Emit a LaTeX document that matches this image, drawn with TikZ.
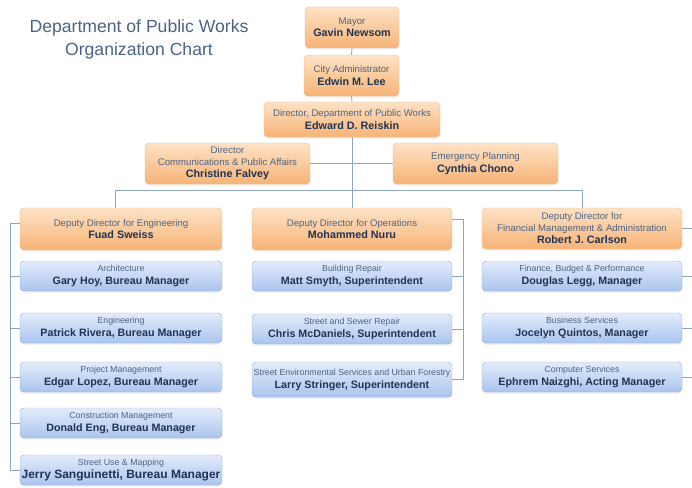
\documentclass[tikz,border=0pt]{standalone}
\usepackage{fontspec}
\setmainfont{Liberation Sans}
\usetikzlibrary{shadows}

\definecolor{titlec}{HTML}{4B6384}
\definecolor{namec}{HTML}{1F3354}
\definecolor{rolec}{HTML}{4E6283}
\definecolor{linec}{HTML}{8FA4C0}
\definecolor{orgtop}{HTML}{FDE2C6}
\definecolor{orgbot}{HTML}{F7B375}
\definecolor{orgline}{HTML}{F2BC8C}
\definecolor{blutop}{HTML}{E3ECFB}
\definecolor{blubot}{HTML}{AAC4EE}
\definecolor{bluline}{HTML}{95B0DA}

\newcommand\who[1]{{\fontsize{10.8}{13}\selectfont\bfseries\color{namec}#1}}
\newcommand\bwho[1]{{\fontsize{10.7}{13}\selectfont\bfseries\color{namec}#1}}

\begin{document}
\begin{tikzpicture}[x=1pt,y=-1pt,
  box/.style={rounded corners=4pt, align=center, inner sep=0pt, text=rolec,
    font=\fontsize{9.6}{12.5}\selectfont,
    drop shadow={opacity=0.15,shadow xshift=0pt,shadow yshift=-1.5pt}},
  chief/.style={box, draw=orgline, top color=orgtop, bottom color=orgbot},
  bureau/.style={box, draw=bluline, top color=blutop, bottom color=blubot,
    font=\fontsize{8.8}{13}\selectfont, minimum width=202, minimum height=30},
  conn/.style={linec, line width=0.8pt}]

    \useasboundingbox (0,0) rectangle (692,487);

    % Title
    \node[font=\fontsize{17.6}{23}\selectfont, text=titlec, align=center] (title) at (139,39)
      {Department of Public Works\\Organization Chart};

    % Top of the chain
    \node[chief, minimum width=94, minimum height=41] (mayor) at (352,27.5) {Mayor\\\who{Gavin Newsom}};
    \node[chief, minimum width=95, minimum height=41] (cityadm) at (351.5,75.5) {City Administrator\\\who{Edwin M. Lee}};
    \node[chief, minimum width=176, minimum height=35] (director) at (352,119.5)
      {Director, Department of Public Works\\\who{Edward D. Reiskin}};
    \node[chief, minimum width=165, minimum height=41, font=\fontsize{9.6}{12}\selectfont] (comms) at (227.5,163.5)
      {Director\\Communications \& Public Affairs\\\who{Christine Falvey}};
    \node[chief, minimum width=165, minimum height=41] (emerg) at (475.5,163.5)
      {Emergency Planning\\\who{Cynthia Chono}};

    % Deputy directors
    \node[chief, minimum width=202, minimum height=42] (depeng) at (121,229)
      {Deputy Director for Engineering\\\who{Fuad Sweiss}};
    \node[chief, minimum width=200, minimum height=42] (depops) at (352,229)
      {Deputy Director for Operations\\\who{Mohammed Nuru}};
    \node[chief, minimum width=200, minimum height=41, font=\fontsize{9.6}{12}\selectfont] (depfin) at (582,228.5)
      {Deputy Director for\\Financial Management \& Administration\\\who{Robert J. Carlson}};

    % Engineering bureaus
    \node[bureau] (arch) at (121,276) {Architecture\\\bwho{Gary Hoy, Bureau Manager}};
    \node[bureau] (eng) at (121,328) {Engineering\\\bwho{Patrick Rivera, Bureau Manager}};
    \node[bureau] (pm) at (121,377) {Project Management\\\bwho{Edgar Lopez, Bureau Manager}};
    \node[bureau] (cm) at (121,423) {Construction Management\\\bwho{Donald Eng, Bureau Manager}};
    \node[bureau] (su) at (121,470) {Street Use \& Mapping\\
      {\fontsize{12}{13}\selectfont\bfseries\color{namec}Jerry Sanguinetti, Bureau Manager}};

    % Operations bureaus
    \node[bureau, minimum width=200] (br) at (352,276) {Building Repair\\\bwho{Matt Smyth, Superintendent}};
    \node[bureau, minimum width=200] (ss) at (352,329) {Street and Sewer Repair\\\bwho{Chris McDaniels, Superintendent}};
    \node[bureau, minimum width=200, minimum height=35] (se) at (352,379.5)
      {Street Environmental Services and Urban Forestry\\\bwho{Larry Stringer, Superintendent}};

    % Finance bureaus
    \node[bureau, minimum width=200] (fbp) at (582,276) {Finance, Budget \& Performance\\\bwho{Douglas Legg, Manager}};
    \node[bureau, minimum width=200] (bs) at (582,328) {Business Services\\\bwho{Jocelyn Quintos, Manager}};
    \node[bureau, minimum width=200] (cs) at (582,377) {Computer Services\\\bwho{Ephrem Naizghi, Acting Manager}};

    % Spine and bus
    \coordinate (busl) at (115,190);
    \coordinate (busr) at (582,190);
    \draw[conn] (mayor.south) -- (cityadm.north);
    \draw[conn] (cityadm.south) -- (director.north);
    \draw[conn] (director.south) -- (depops.north);
    \draw[conn] (comms.east) -- (emerg.west);
    \draw[conn] (depeng.north -| busl) -- (busl) -- (busr) -- (depfin.north);

    % Brackets down each column
    \coordinate (lbar) at (10,0);
    \coordinate (mbar) at (463,0);
    \coordinate (rbar) at (692,0);
    \draw[conn] ([yshift=6pt]depeng.west) -| (su.west -| lbar) -- (su.west);
    \foreach \b in {arch,eng,pm,cm}
      \draw[conn] (\b.west) -- (\b.west -| lbar);
    \draw[conn] ([yshift=10pt]depops.east) -| (se.east -| mbar) -- (se.east);
    \foreach \b in {br,ss}
      \draw[conn] (\b.east) -- (\b.east -| mbar);
    \foreach \b in {depfin,fbp,bs,cs}
      \draw[conn] (\b.east) -- (\b.east -| rbar);

\end{tikzpicture}
\end{document}
